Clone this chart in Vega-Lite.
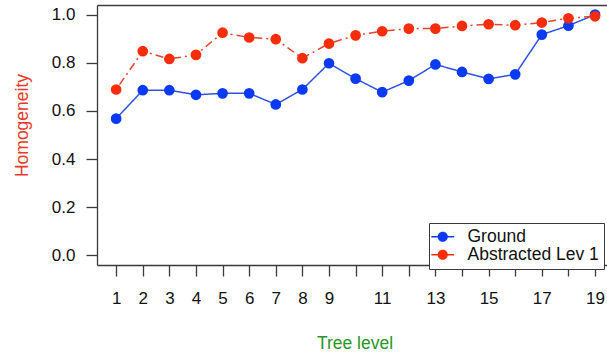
{
  "$schema": "https://vega.github.io/schema/vega-lite/v6.json",
  "autosize": "none",
  "width": 510,
  "height": 260,
  "padding": {"left": 97, "top": 5, "right": 0, "bottom": 91},
  "background": "white",
  "config": {
    "view": {"stroke": null},
    "font": "Liberation Sans",
    "axis": {"grid": false, "labelFont": "Liberation Sans", "titleFont": "Liberation Sans", "labelColor": "#111", "domainColor": "#3a3a3a", "domainWidth": 1.3, "tickColor": "#3a3a3a", "tickWidth": 1.3}
  },
  "data": {
    "values": [
      {"level": 1, "series": "Ground", "h": 0.568},
      {"level": 2, "series": "Ground", "h": 0.686},
      {"level": 3, "series": "Ground", "h": 0.686},
      {"level": 4, "series": "Ground", "h": 0.667},
      {"level": 5, "series": "Ground", "h": 0.673},
      {"level": 6, "series": "Ground", "h": 0.673},
      {"level": 7, "series": "Ground", "h": 0.627},
      {"level": 8, "series": "Ground", "h": 0.689},
      {"level": 9, "series": "Ground", "h": 0.798},
      {"level": 10, "series": "Ground", "h": 0.734},
      {"level": 11, "series": "Ground", "h": 0.678},
      {"level": 12, "series": "Ground", "h": 0.726},
      {"level": 13, "series": "Ground", "h": 0.793},
      {"level": 14, "series": "Ground", "h": 0.762},
      {"level": 15, "series": "Ground", "h": 0.733},
      {"level": 16, "series": "Ground", "h": 0.752},
      {"level": 17, "series": "Ground", "h": 0.917},
      {"level": 18, "series": "Ground", "h": 0.954},
      {"level": 19, "series": "Ground", "h": 1.0},
      {"level": 1, "series": "Abstracted Lev 1", "h": 0.689},
      {"level": 2, "series": "Abstracted Lev 1", "h": 0.848},
      {"level": 3, "series": "Abstracted Lev 1", "h": 0.816},
      {"level": 4, "series": "Abstracted Lev 1", "h": 0.833},
      {"level": 5, "series": "Abstracted Lev 1", "h": 0.925},
      {"level": 6, "series": "Abstracted Lev 1", "h": 0.905},
      {"level": 7, "series": "Abstracted Lev 1", "h": 0.898},
      {"level": 8, "series": "Abstracted Lev 1", "h": 0.819},
      {"level": 9, "series": "Abstracted Lev 1", "h": 0.880},
      {"level": 10, "series": "Abstracted Lev 1", "h": 0.914},
      {"level": 11, "series": "Abstracted Lev 1", "h": 0.931},
      {"level": 12, "series": "Abstracted Lev 1", "h": 0.942},
      {"level": 13, "series": "Abstracted Lev 1", "h": 0.942},
      {"level": 14, "series": "Abstracted Lev 1", "h": 0.953},
      {"level": 15, "series": "Abstracted Lev 1", "h": 0.960},
      {"level": 16, "series": "Abstracted Lev 1", "h": 0.956},
      {"level": 17, "series": "Abstracted Lev 1", "h": 0.967},
      {"level": 18, "series": "Abstracted Lev 1", "h": 0.985},
      {"level": 19, "series": "Abstracted Lev 1", "h": 0.993}
    ]
  },
  "encoding": {
    "y": {
      "field": "h", "type": "quantitative",
      "scale": {"domain": [-0.04, 1.04], "nice": false, "zero": false},
      "axis": {
        "values": [0, 0.2, 0.4, 0.6, 0.8, 1.0], "format": ".1f",
        "labelFontSize": 17, "tickSize": 11, "labelPadding": 11,
        "title": "Homogeneity", "titleColor": "#e63b2a", "titleFontSize": 17.5, "titleFontWeight": "normal",
        "titleX": -70, "titleY": 120, "titleAngle": -90, "titleBaseline": "alphabetic", "titleAlign": "center"
      }
    }
  },
  "layer": [
    {
      "mark": {"type": "line", "strokeWidth": 1.5},
      "encoding": {
        "x": {
          "field": "level", "type": "quantitative",
          "scale": {"domain": [0.28, 19.45], "nice": false, "zero": false},
          "axis": {
            "orient": "bottom",
            "values": [1,2,3,4,5,6,7,8,9,10,11,12,13,14,15,16,17,18,19],
            "labelExpr": "indexof([10,12,14,16,18], datum.value) >= 0 ? '' : datum.label",
            "labelOverlap": false, "labelFlush": false, "labelBound": false,
            "labelFontSize": 17, "tickSize": 11, "labelPadding": 14,
            "title": "Tree level", "titleColor": "#2a962a", "titleFontSize": 17.5, "titleFontWeight": "normal",
            "titleX": 257.5, "titleY": 83, "titleBaseline": "alphabetic", "titleAlign": "center"
          }
        },
        "color": {"field": "series", "type": "nominal", "scale": {"domain": ["Ground", "Abstracted Lev 1"], "range": ["#2f52e0", "#e2452c"]}, "legend": null},
        "strokeDash": {"field": "series", "type": "nominal", "scale": {"domain": ["Ground", "Abstracted Lev 1"], "range": [[1, 0], [2, 4, 8, 4]]}, "legend": null}
      }
    },
    {
      "mark": {"type": "point", "filled": true, "size": 115, "opacity": 1, "shape": "circle"},
      "encoding": {
        "x": {
          "field": "level", "type": "quantitative",
          "axis": {"orient": "top", "labels": false, "ticks": false, "title": null}
        },
        "color": {
          "field": "series", "type": "nominal",
          "scale": {"domain": ["Ground", "Abstracted Lev 1"], "range": ["#0a3af5", "#fa2d0a"]},
          "legend": {
            "title": null, "orient": "none", "legendX": 332, "legendY": 218,
            "symbolType": "M-1.9,-0.125H1.9V0.125H-1.9Z M0.85,0A0.85,0.85,0,1,1,-0.85,0A0.85,0.85,0,1,1,0.85,0Z",
            "symbolSize": 144, "symbolStrokeWidth": 0, "symbolOffset": 0,
            "labelFontSize": 17.5, "labelFont": "Liberation Sans", "labelColor": "#111", "labelLimit": 400,
            "labelOffset": 16, "rowPadding": -8, "padding": 5,
            "strokeColor": "#3a3a3a", "fillColor": "white"
          }
        }
      }
    }
  ],
  "resolve": {"scale": {"color": "independent"}}
}
